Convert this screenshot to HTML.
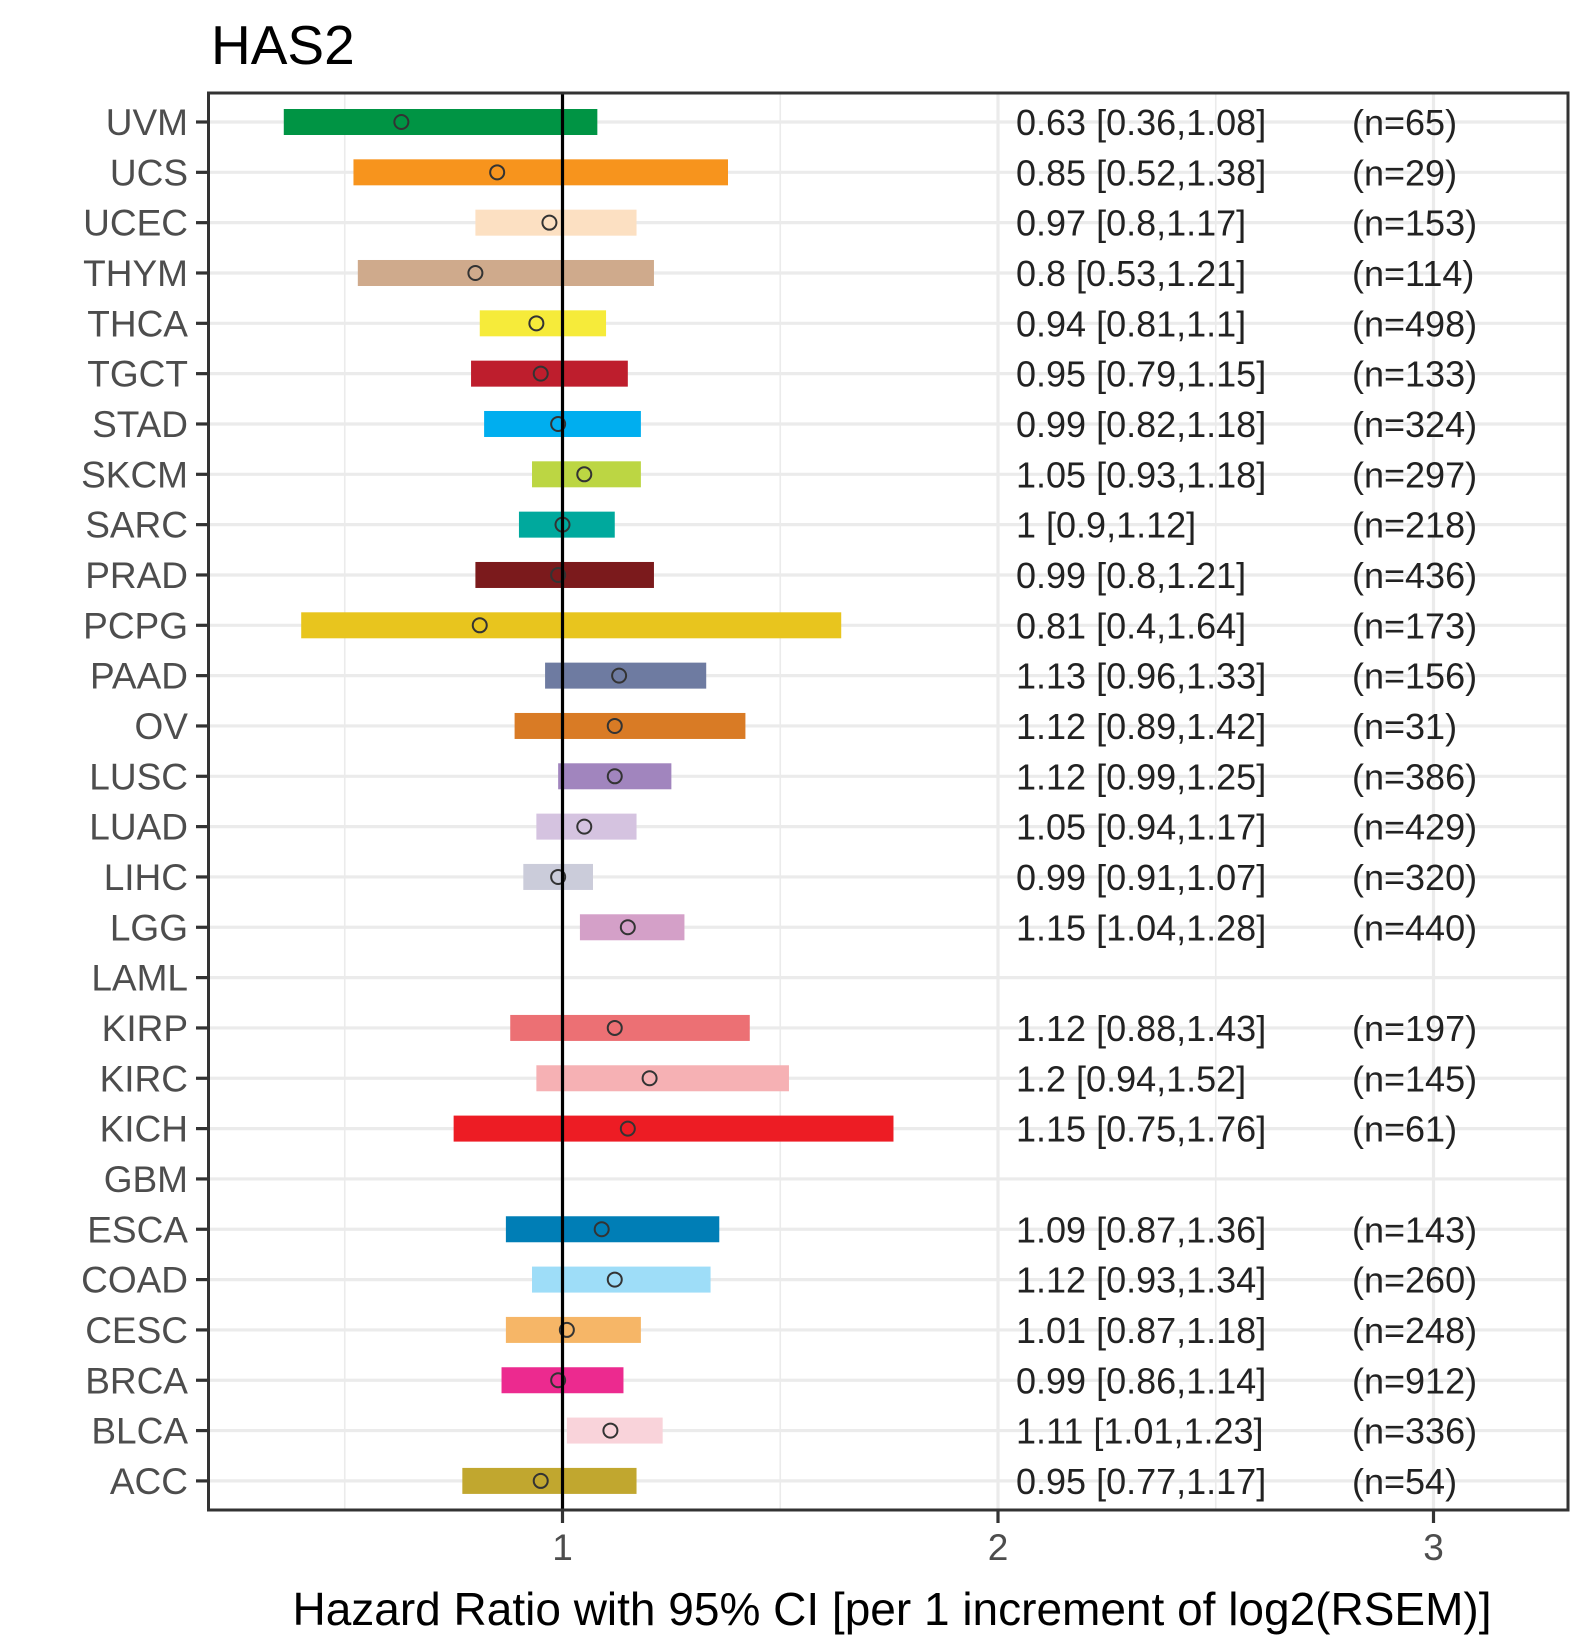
<!DOCTYPE html>
<html><head><meta charset="utf-8"><style>
html,body{margin:0;padding:0;background:#fff;}
svg{display:block;font-family:"Liberation Sans",Arial,sans-serif;}
</style></head><body>
<svg id="chart" width="1590" height="1650" viewBox="0 0 1590 1650" xmlns="http://www.w3.org/2000/svg">
<text x="211" y="64" font-size="55" fill="#000">HAS2</text>
<g id="grid"></g>
<g id="bars"></g>
<g id="annot"></g>
<g id="axes"></g>
<text x="892" y="1625" font-size="46" text-anchor="middle" fill="#000">Hazard Ratio with 95% CI [per 1 increment of log2(RSEM)]</text>
</svg>
<script>
const categories = ["UVM","UCS","UCEC","THYM","THCA","TGCT","STAD","SKCM","SARC","PRAD","PCPG","PAAD","OV","LUSC","LUAD","LIHC","LGG","LAML","KIRP","KIRC","KICH","GBM","ESCA","COAD","CESC","BRCA","BLCA","ACC"];
const hr = [0.63,0.85,0.97,0.8,0.94,0.95,0.99,1.05,1,0.99,0.81,1.13,1.12,1.12,1.05,0.99,1.15,null,1.12,1.2,1.15,null,1.09,1.12,1.01,0.99,1.11,0.95];
const lower = [0.36,0.52,0.8,0.53,0.81,0.79,0.82,0.93,0.9,0.8,0.4,0.96,0.89,0.99,0.94,0.91,1.04,null,0.88,0.94,0.75,null,0.87,0.93,0.87,0.86,1.01,0.77];
const upper = [1.08,1.38,1.17,1.21,1.1,1.15,1.18,1.18,1.12,1.21,1.64,1.33,1.42,1.25,1.17,1.07,1.28,null,1.43,1.52,1.76,null,1.36,1.34,1.18,1.14,1.23,1.17];
const nCounts = [65,29,153,114,498,133,324,297,218,436,173,156,31,386,429,320,440,null,197,145,61,null,143,260,248,912,336,54];
const colors = ["#009444","#F7941D","#FCE0C2","#CFAA8C","#F6EB3A","#BE1E2D","#00AEEF","#BCD643","#00A99D","#7B1A1C","#E8C51E","#6E7BA1","#D97B25","#A185BE","#D5C3E0","#CBCCDA","#D4A0C8","#ccc","#EC7074","#F6B1B4","#ED1C24","#ccc","#007EB6","#9EDDF8","#F6B667","#EC2A8F","#F9D3DA","#C1A72F"];
const xTicks = [1,2,3];
const xMinor = [0.5,1.5,2.5];

const NS="http://www.w3.org/2000/svg";
const L=208.5,R=1568,T=93,B=1510;
const X0=562.5,U=435.5;
function xs(v){return X0+(v-1)*U;}
function ys(i){return 122+i*50.33;}
function mk(tag,attrs,parent){const e=document.createElementNS(NS,tag);for(const k in attrs)e.setAttribute(k,attrs[k]);parent.appendChild(e);return e;}
const grid=document.getElementById('grid'),bars=document.getElementById('bars'),annot=document.getElementById('annot'),axes=document.getElementById('axes');

xMinor.forEach(v=>{const l=mk('line',{x1:xs(v),x2:xs(v),y1:T,y2:B,stroke:'#ebebeb','stroke-width':1.6},grid);

});
xTicks.forEach(v=>{const l=mk('line',{x1:xs(v),x2:xs(v),y1:T,y2:B,stroke:'#ebebeb','stroke-width':3.2},grid);

});
categories.forEach((c,i)=>{const l=mk('line',{x1:L,x2:R,y1:ys(i),y2:ys(i),stroke:'#ebebeb','stroke-width':3.2},grid);

});

categories.forEach((c,i)=>{
  const y=ys(i);
  if(hr[i]!==null){
    const r=mk('rect',{x:xs(lower[i]),y:y-13,width:xs(upper[i])-xs(lower[i]),height:26,fill:colors[i]},bars);
    
    
    const p=mk('circle',{cx:xs(hr[i]),cy:y,r:7,fill:'none',stroke:'#333','stroke-width':2},bars);
    
    
    const t=mk('text',{x:1016,y:y+13,'font-size':36,fill:'#222'},annot);
    t.textContent=hr[i]+' ['+lower[i]+','+upper[i]+']';
    
    
    const n=mk('text',{x:1352,y:y+13,'font-size':36,fill:'#222'},annot);
    n.textContent='(n='+nCounts[i]+')';
    
    
  }
  const lab=mk('text',{x:188,y:y+13,'font-size':37,'text-anchor':'end',fill:'#4d4d4d'},axes);
  lab.textContent=c;
  
  
  const tk=mk('line',{x1:196,x2:L,y1:y,y2:y,stroke:'#333','stroke-width':3.2},axes);
  
  
});

const ref=mk('line',{x1:xs(1),x2:xs(1),y1:T,y2:B,stroke:'#000','stroke-width':3.2},axes);


const frame=mk('rect',{x:L,y:T,width:R-L,height:B-T,fill:'none',stroke:'#333','stroke-width':3},axes);


xTicks.forEach(v=>{
  const tk=mk('line',{x1:xs(v),x2:xs(v),y1:B,y2:B+13,stroke:'#333','stroke-width':3.2},axes);
  
  
  const t=mk('text',{x:xs(v),y:B+50,'font-size':37,'text-anchor':'middle',fill:'#4d4d4d'},axes);
  t.textContent=v;
  
  
});
</script>
</body></html>
